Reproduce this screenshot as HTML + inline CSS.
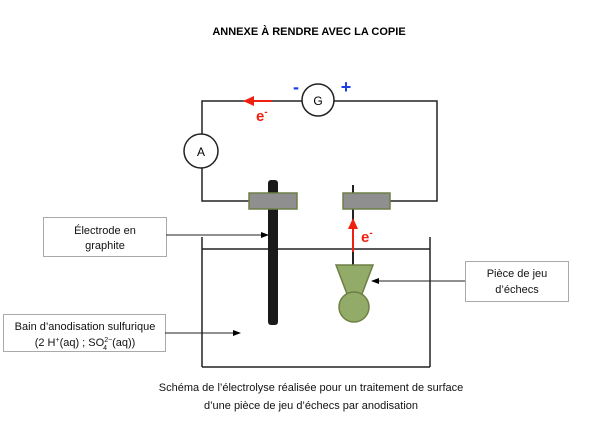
<!DOCTYPE html>
<html><head><meta charset="utf-8"><style>
html,body{margin:0;padding:0;background:#fff;}
svg{display:block;font-family:"Liberation Sans",Arial,sans-serif;}
</style></head><body>
<svg width="601" height="442" viewBox="0 0 601 442" xmlns="http://www.w3.org/2000/svg">
<defs>
<marker id="ab" markerWidth="8" markerHeight="8" refX="7" refY="4" orient="auto" markerUnits="userSpaceOnUse"><path d="M0,1 L8,4 L0,7 Z" fill="#000"/></marker>
</defs>
<text x="309" y="35" text-anchor="middle" font-size="11" font-weight="bold">ANNEXE À RENDRE AVEC LA COPIE</text>
<!-- circuit -->
<g stroke="#222" stroke-width="1.5" fill="none">
<polyline points="202,134 202,101 302,101"/>
<polyline points="334,101 437,101 437,201 390,201"/>
<polyline points="202,168 202,201 249,201"/>
</g>
<circle cx="318" cy="100" r="16" fill="#fff" stroke="#222" stroke-width="1.5"/>
<text x="318" y="105" text-anchor="middle" font-size="12">G</text>
<circle cx="201" cy="151" r="17" fill="#fff" stroke="#222" stroke-width="1.5"/>
<text x="201" y="156" text-anchor="middle" font-size="12">A</text>
<text x="296" y="93" text-anchor="middle" font-size="18" font-weight="bold" fill="#1a3fe0">-</text>
<text x="346" y="93" text-anchor="middle" font-size="18" font-weight="bold" fill="#1a3fe0">+</text>
<!-- top red arrow -->
<line x1="272" y1="101" x2="252" y2="101" stroke="#f02010" stroke-width="2"/>
<path d="M243,101 L254,96 L254,106 Z" fill="#f02010"/>
<text x="256" y="121" font-size="15" font-weight="bold" fill="#f02010">e<tspan font-size="10" dy="-6">-</tspan></text>
<!-- tank -->
<g stroke="#222" stroke-width="1.5" fill="none">
<line x1="202" y1="237" x2="202" y2="367"/>
<line x1="430" y1="237" x2="430" y2="367"/>
<line x1="202" y1="367" x2="430" y2="367"/>
<line x1="202" y1="249" x2="430" y2="249"/>
</g>
<!-- graphite rod -->
<rect x="268" y="180" width="10" height="145" rx="3" fill="#1a1a1a"/>
<rect x="249" y="193" width="48" height="16" fill="#8f8f8f" stroke="#6e7f45" stroke-width="1.5"/>
<!-- right rod -->
<line x1="353" y1="185" x2="353" y2="266" stroke="#222" stroke-width="2"/>
<rect x="343" y="193" width="47" height="16" fill="#8f8f8f" stroke="#6e7f45" stroke-width="1.5"/>
<line x1="353" y1="252" x2="353" y2="228" stroke="#f02010" stroke-width="2"/>
<path d="M353,218 L348,229 L358,229 Z" fill="#f02010"/>
<text x="361" y="242" font-size="15" font-weight="bold" fill="#f02010">e<tspan font-size="10" dy="-6">-</tspan></text>
<!-- chess piece -->
<path d="M336,265 L373,265 L362,294 L347,294 Z" fill="#93ab68" stroke="#6e7f45" stroke-width="1.5"/>
<circle cx="354" cy="307" r="15" fill="#93ab68" stroke="#6e7f45" stroke-width="1.5"/>
<!-- labels -->
<g stroke="#aaa" stroke-width="1" fill="#fff">
<rect x="43.5" y="217.5" width="123" height="39"/>
<rect x="3.5" y="314.5" width="162" height="37"/>
<rect x="465.5" y="261.5" width="103" height="40"/>
</g>
<g stroke="#222" stroke-width="1" fill="none">
<line x1="166" y1="235" x2="268" y2="235" marker-end="url(#ab)"/>
<line x1="165" y1="333" x2="240" y2="333" marker-end="url(#ab)"/>
<line x1="465" y1="281" x2="372" y2="281" marker-end="url(#ab)"/>
</g>
<g font-size="11" text-anchor="middle" fill="#111">
<text x="105" y="234">Électrode en</text>
<text x="105" y="249">graphite</text>
<text x="85" y="330">Bain d’anodisation sulfurique</text>
<text x="85" y="346">(2 H<tspan font-size="7" dy="-4">+</tspan><tspan dy="4">(aq) ; SO</tspan><tspan font-size="7" dy="-4">2−</tspan><tspan font-size="7" dx="-9" dy="8">4</tspan><tspan dx="5" dy="-4">(aq))</tspan></text>
<text x="517" y="277">Pièce de jeu</text>
<text x="517" y="293">d’échecs</text>
<text x="311" y="391">Schéma de l’électrolyse réalisée pour un traitement de surface</text>
<text x="311" y="409">d’une pièce de jeu d’échecs par anodisation</text>
</g>
</svg>
</body></html>
